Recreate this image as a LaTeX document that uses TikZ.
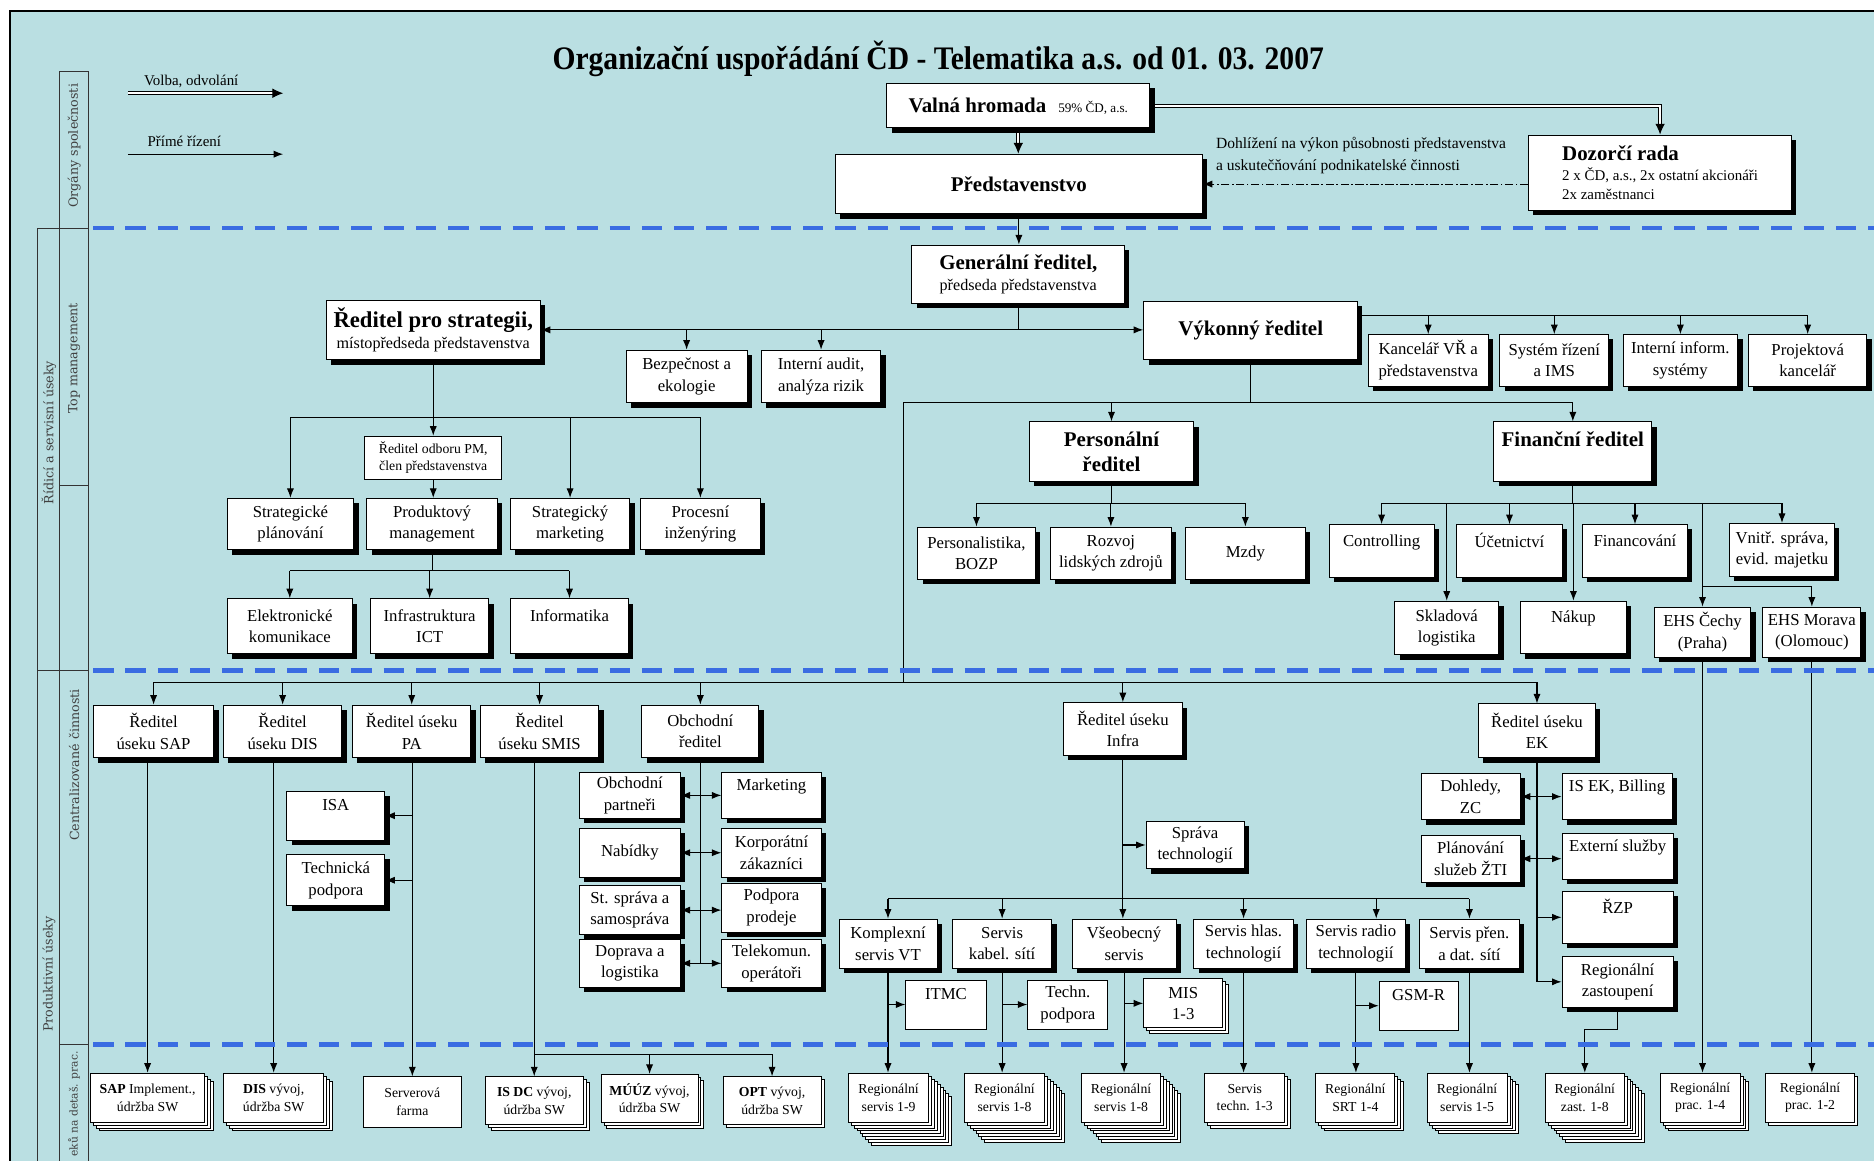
\documentclass[tikz,border=0pt]{standalone}
\usepackage{fontspec}
\setmainfont{Liberation Serif}
\newfontfamily\titlefont{Liberation Serif}[FakeStretch=0.9]
\newfontfamily\sidefont{DejaVu Serif}
\usetikzlibrary{shadows,arrows.meta,calc}
\definecolor{bgc}{RGB}{186,223,226}
\definecolor{dashc}{RGB}{58,108,226}
\pgfdeclarelayer{back}
\pgfdeclarelayer{lines}
\pgfsetlayers{back,lines,main}
\tikzset{
 box/.style={draw=black, fill=white, line width=0.8pt, align=center, inner sep=1pt, font=\fontsize{14}{18}\selectfont, general shadow={fill=black, shadow xshift=4pt, shadow yshift=-4pt}},
 pbox/.style={draw=black, fill=white, line width=0.8pt, align=center, inner sep=1pt, font=\fontsize{14}{18}\selectfont},
 sbox/.style={pbox, font=\fontsize{11.5}{14.5}\selectfont},
 arr/.style={line width=0.9pt, -{Latex[length=8pt,width=6pt]}},
 darr/.style={line width=0.9pt, {Latex[length=8pt,width=6pt]}-{Latex[length=8pt,width=6pt]}},
 ln/.style={line width=0.9pt},
 dblarr/.style={line width=0.8pt, double, double distance=2pt, -{Latex[length=9pt,width=8pt]}},
 dasharr/.style={line width=0.8pt, dash pattern=on 7pt off 2pt on 1.5pt off 2pt, -{Latex[length=8pt,width=6pt]}},
 sepline/.style={dashc, line width=3.5pt, dash pattern=on 17pt off 10pt},
 sidelab/.style={font=\sidefont\fontsize{10.6}{12}\selectfont, text=black!75, rotate=90, inner sep=0pt},
 hd/.style={font=\bfseries\fontsize{17.5}{21}\selectfont}
}
\newcommand\bx[7][box]{\node[#1, minimum width={(#5-#3)*1pt}, minimum height={(#6-#4)*1pt}] (#2) at ({(#3+#5)/2},{(#4+#6)/2}) {#7};}
\newcommand\stk[8][sbox]{%
 \pgfmathtruncatemacro\nlay{#7-1}%
 \ifnum\nlay>0
 \foreach \k in {\nlay,...,1}{\draw[line width=0.7pt, fill=white] ({#3+\k*2.4},{#4+\k*2.4}) rectangle ({#5+\k*2.4},{#6+\k*2.4});}%
 \fi
 \bx[#1]{#2}{#3}{#4}{#5}{#6}{#8}}
\begin{document}
\begin{tikzpicture}[x=1pt,y=-1pt]
\useasboundingbox (0,0) rectangle (1568,971);
\begin{pgfonlayer}{back}
\fill[white] (0,0) rectangle (1568,971);
\fill[bgc] (8,9) rectangle (1568,971);
\draw[line width=1.6pt] (8,975) -- (8,9) -- (1570,9);
\draw[line width=0.8pt, black!80] (50,60) rectangle (74,191);
\draw[line width=0.8pt, black!80] (31,191) rectangle (50,561);
\draw[line width=0.8pt, black!80] (50,191) rectangle (74,406);
\draw[line width=0.8pt, black!80] (50,406) rectangle (74,561);
\draw[line width=0.8pt, black!80] (31,975) -- (31,561) -- (74,561) -- (74,975);
\draw[line width=0.8pt, black!80] (50,561) -- (50,975);
\draw[line width=0.8pt, black!80] (50,874) -- (74,874);
\end{pgfonlayer}

% side labels
\node[sidelab] (s1) at (62,122) {Orgány společnosti};
\node[sidelab] (s2) at (41,362) {Řídicí a servisní úseky};
\node[sidelab] (s3) at (62,300) {Top management};
\node[sidelab] (s4) at (62,640) {Centralizované činnosti};
\node[sidelab] (s5) at (41,815) {Produktivní úseky};
\node[sidelab, anchor=west, font=\sidefont\fontsize{9}{11}\selectfont] (s6) at (62,968) {eků na detaš. prac.};

% title and legend
\node (title) at (785,49) {\titlefont\fontsize{27.5}{30}\selectfont\bfseries Organizační uspořádání ČD - Telematika a.s. od 01. 03. 2007};
\node[anchor=west, font=\fontsize{12.5}{15}\selectfont] (leg1) at (117,68) {Volba, odvolání};
\node[anchor=west, font=\fontsize{12.5}{15}\selectfont] (leg2) at (120,118) {Přímé řízení};
\coordinate (l1a) at (107,78); \coordinate (l1b) at (237,78);
\coordinate (l2a) at (107,129); \coordinate (l2b) at (237,129);

% top organs
\bx{valna}{742}{70}{962}{107}{{\bfseries\fontsize{17.5}{21}\selectfont Valná hromada}\hspace{10pt}{\fontsize{11}{13}\selectfont 59\% ČD, a.s.}}
\bx[box,hd]{pred}{699}{129}{1006}{179}{Představenstvo}
\bx[box,align=left,font=\fontsize{12.5}{16}\selectfont]{dozor}{1279}{113}{1499}{176}{{\bfseries\fontsize{17.5}{21}\selectfont Dozorčí rada}\\2 x ČD, a.s., 2x ostatní akcionáři\\2x zaměstnanci}
\node[anchor=west, align=left, font=\fontsize{13}{18}\selectfont] (dlab) at (1014,130) {Dohlížení na výkon působnosti představenstva\\a uskutečňování podnikatelské činnosti};

% top management
\bx{gen}{763}{205}{941}{254}{{\bfseries\fontsize{17.5}{21}\selectfont Generální ředitel,}\\{\fontsize{13.5}{16}\selectfont předseda představenstva}}
\bx{strat}{273}{251}{452}{301}{{\bfseries\fontsize{19}{22}\selectfont Ředitel pro strategii,}\\{\fontsize{13.5}{16}\selectfont místopředseda představenstva}}
\bx{bezp}{524}{293}{625}{337}{Bezpečnost a\\ekologie}
\bx{audit}{637}{293}{737}{337}{Interní audit,\\analýza rizik}
\bx[box,hd]{vyk}{957}{252}{1136}{301}{Výkonný ředitel}
\bx{kanc}{1145}{280}{1245}{323}{Kancelář VŘ a\\představenstva}
\bx{sys}{1255}{280}{1346}{323}{Systém řízení\\a IMS}
\bx{iis}{1358}{280}{1454}{323}{Interní inform.\\systémy}
\bx{proj}{1463}{280}{1562}{323}{Projektová\\kancelář}
\bx[sbox]{pm}{305}{365}{420}{401}{Ředitel odboru PM,\\člen představenstva}
\bx{splan}{190}{417}{296}{460}{Strategické\\plánování}
\bx{prod}{307}{417}{416}{460}{Produktový\\management}
\bx{smark}{427}{417}{527}{460}{Strategický\\marketing}
\bx{proc}{536}{417}{636}{460}{Procesní\\inženýring}
\bx{elek}{190}{501}{295}{547}{Elektronické\\komunikace}
\bx{ict}{310}{501}{409}{547}{Infrastruktura\\ICT}
\bx{info}{427}{501}{526}{547}{Informatika\\~}
\bx[box,hd]{pers}{861}{353}{999}{403}{Personální\\ředitel}
\bx[box,hd]{fin}{1250}{353}{1382}{403}{Finanční ředitel\\~}
\bx{persb}{768}{441}{866}{485}{Personalistika,\\BOZP}
\bx{rozv}{879}{441}{980}{485}{Rozvoj\\lidských zdrojů}
\bx{mzdy}{992}{441}{1092}{485}{Mzdy}
\bx{ctrl}{1112}{439}{1200}{483}{Controlling\\~}
\bx{ucet}{1219}{439}{1307}{483}{Účetnictví\\~}
\bx{finan}{1324}{439}{1412}{483}{Financování\\~}
\bx{vnitr}{1447}{438}{1535}{482}{Vnitř. správa,\\evid. majetku}
\bx{sklad}{1167}{503}{1254}{548}{Skladová\\logistika}
\bx{nakup}{1272}{503}{1361}{547}{Nákup\\~}
\bx{ehsc}{1384}{508}{1465}{550}{EHS Čechy\\(Praha)}
\bx{ehsm}{1475}{508}{1557}{550}{EHS Morava\\(Olomouc)}

% centralised
\bx{sap}{78}{590}{179}{634}{Ředitel\\úseku SAP}
\bx{dis}{187}{590}{286}{634}{Ředitel\\úseku DIS}
\bx{pa}{295}{590}{394}{634}{Ředitel úseku\\PA}
\bx{smis}{402}{590}{501}{634}{Ředitel\\úseku SMIS}
\bx{obch}{537}{590}{635}{634}{Obchodní\\ředitel}
\bx{isa}{240}{662}{322}{703}{ISA\\~}
\bx{tech}{240}{715}{322}{758}{Technická\\podpora}
\bx{op}{485}{646}{569}{685}{Obchodní\\partneři}
\bx{mkt}{604}{646}{687}{685}{Marketing\\~}
\bx{nab}{485}{693}{569}{734}{Nabídky}
\bx{korp}{604}{693}{687}{734}{Korporátní\\zákazníci}
\bx{st}{485}{741}{569}{782}{St. správa a\\samospráva}
\bx{podp}{604}{739}{687}{780}{Podpora\\prodeje}
\bx{dop}{485}{786}{569}{826}{Doprava a\\logistika}
\bx{tel}{604}{786}{687}{826}{Telekomun.\\operátoři}
\bx{infra}{890}{588}{989}{632}{Ředitel úseku\\Infra}
\bx{ek}{1237}{589}{1335}{634}{Ředitel úseku\\EK}
\bx{sprava}{959}{687}{1041}{727}{Správa\\technologií}
\bx{komp}{702}{769}{784}{810}{Komplexní\\servis VT}
\bx{kab}{797}{769}{880}{810}{Servis\\kabel. sítí}
\bx{vseo}{897}{769}{984}{810}{Všeobecný\\servis}
\bx{hlas}{999}{769}{1082}{810}{Servis hlas.\\technologií}
\bx{radio}{1093}{769}{1176}{810}{Servis radio\\technologií}
\bx{pren}{1188}{769}{1271}{810}{Servis přen.\\a dat. sítí}
\bx[pbox]{itmc}{758}{820}{825}{861}{ITMC\\~}
\bx[pbox]{tpod}{860}{820}{927}{861}{Techn.\\podpora}
\stk[pbox]{mis}{957}{819}{1023}{860}{3}{MIS\\1-3}
\bx[pbox]{gsm}{1154}{821}{1220}{862}{GSM-R\\~}
\bx{dohl}{1189}{647}{1272}{686}{Dohledy,\\ZC}
\bx{isek}{1307}{647}{1399}{686}{IS EK, Billing\\~}
\bx{plan}{1189}{699}{1272}{738}{Plánování\\služeb ŽTI}
\bx{ext}{1307}{697}{1400}{736}{Externí služby\\~}
\bx{rzp}{1307}{746}{1400}{789}{ŘZP\\~}
\bx{regz}{1307}{800}{1400}{843}{Regionální\\zastoupení}

% bottom row
\stk{bsap}{76}{898}{171}{939}{4}{\textbf{SAP} Implement.,\\údržba SW}
\stk{bdis}{187}{898}{271}{939}{4}{\textbf{DIS} vývoj,\\údržba SW}
\stk{bfarm}{304}{901}{386}{943}{1}{Serverová\\farma}
\stk{bisdc}{406}{901}{488}{941}{3}{\textbf{IS DC} vývoj,\\údržba SW}
\stk{bmuuz}{503}{899}{584}{939}{3}{\textbf{MÚÚZ} vývoj,\\údržba SW}
\stk{bopt}{605}{901}{687}{941}{2}{\textbf{OPT} vývoj,\\údržba SW}
\stk{brnine}{710}{898}{777}{939}{9}{Regionální\\servis 1-9}
\stk{breighta}{807}{898}{874}{939}{8}{Regionální\\servis 1-8}
\stk{breightb}{905}{898}{971}{939}{8}{Regionální\\servis 1-8}
\stk{bst}{1008}{898}{1075}{939}{3}{Servis\\techn. 1-3}
\stk{bsrt}{1101}{898}{1167}{939}{4}{Regionální\\SRT 1-4}
\stk{brfive}{1194}{898}{1261}{939}{5}{Regionální\\servis 1-5}
\stk{bzast}{1293}{898}{1359}{939}{8}{Regionální\\zast. 1-8}
\stk{bpfour}{1389}{898}{1456}{939}{4}{Regionální\\prac. 1-4}
\stk{bptwo}{1477}{898}{1552}{939}{2}{Regionální\\prac. 1-2}

\begin{pgfonlayer}{lines}
\draw[dblarr] (l1a) -- (l1b);
\draw[arr] (l2a) -- (l2b);
\draw[dblarr] (valna.south) -- (valna.south |- pred.north);
\draw[dblarr] (valna.east) -| (dozor.north);
\draw[dasharr] (dozor.west |- pred.east) -- (pred.east);
\draw[arr] (pred.south) -- (pred.south |- gen.north);
\coordinate (gbus) at (852,276);
\draw[ln] (gen.south) -- (gbus);
\draw[arr] (gbus) -- (strat.east |- gbus);
\draw[arr] (gbus) -- (vyk.west |- gbus);
\draw[arr] (bezp.north |- gbus) -- (bezp.north);
\draw[arr] (audit.north |- gbus) -- (audit.north);
\coordinate (vbus) at (1136,264);
\draw[ln] (vbus) -- (proj.north |- vbus);
\foreach \n in {kanc,sys,iis,proj} \draw[arr] (\n.north |- vbus) -- (\n.north);
\coordinate (vdown) at (1046.5,337);
\coordinate (cbus) at (756,571);
\draw[ln] (vyk.south) -- (vdown);
\draw[ln] (fin.north |- vdown) -- (cbus |- vdown) -- (cbus);
\draw[arr] (pers.north |- vdown) -- (pers.north);
\draw[arr] (fin.north |- vdown) -- (fin.north);
\coordinate (sbus) at (362.5,349);
\draw[ln] (strat.south) -- (sbus);
\draw[ln] (splan.north |- sbus) -- (proc.north |- sbus);
\foreach \n in {splan,smark,proc,pm} \draw[arr] (\n.north |- sbus) -- (\n.north);
\draw[arr] (pm.south) -- (pm.south |- prod.north);
\coordinate (pbus) at (361.5,477.5);
\draw[ln] (prod.south) -- (pbus);
\draw[ln] (elek.north |- pbus) -- (info.north |- pbus);
\foreach \n in {elek,ict,info} \draw[arr] (\n.north |- pbus) -- (\n.north);
\coordinate (prbus) at (930,421);
\draw[ln] (pers.south) -- (prbus);
\draw[ln] (persb.north |- prbus) -- (mzdy.north |- prbus);
\foreach \n in {persb,rozv,mzdy} \draw[arr] (\n.north |- prbus) -- (\n.north);
\coordinate (fbus) at (1316,421);
\draw[ln] (fin.south) -- (fbus);
\draw[ln] (ctrl.north |- fbus) -- (vnitr.north |- fbus);
\foreach \n in {ctrl,ucet,finan,vnitr,sklad,nakup,ehsc} \draw[arr] (\n.north |- fbus) -- (\n.north);
\coordinate (ehsj) at (1424.5,491);
\draw[arr] (ehsj) -| (ehsm.north);
% centralised bus
\draw[ln] (sap.north |- cbus) -- (ek.north |- cbus);
\foreach \n in {sap,dis,pa,smis,obch,infra,ek} \draw[arr] (\n.north |- cbus) -- (\n.north);
\draw[arr] (bsap.north |- sap.south) -- (bsap.north);
\draw[arr] (bdis.north |- dis.south) -- (bdis.north);
\draw[arr] (bfarm.north |- pa.south) -- (bfarm.north);
\draw[arr] (bfarm.north |- isa.east) -- (isa.east);
\draw[arr] (bfarm.north |- tech.east) -- (tech.east);
\coordinate (mbus) at (447,882);
\draw[ln] (smis.south -| mbus) -- (mbus) -- (bopt.north |- mbus);
\foreach \n in {bisdc,bmuuz,bopt} \draw[arr] (\n.north |- mbus) -- (\n.north);
\draw[ln] (obch.south) -- (obch.south |- dop.east);
\draw[darr] (op.east) -- (op.east -| mkt.west);
\draw[darr] (nab.east) -- (nab.east -| korp.west);
\draw[darr] (st.east) -- (st.east -| podp.west);
\draw[darr] (dop.east) -- (dop.east -| tel.west);
% infra
\draw[arr] (infra.south) -- (infra.south |- vseo.north);
\draw[arr] (infra.south |- sprava.west) -- (sprava.west);
\coordinate (ibus) at (939.5,752);
\draw[ln] (komp.north |- ibus) -- (pren.north |- ibus);
\foreach \n in {komp,kab,hlas,pren} \draw[arr] (\n.north |- ibus) -- (\n.north);
\draw[arr] ($(radio.north |- ibus)+(17,0)$) -- ($(radio.north)+(17,0)$);
\draw[arr] (komp.south) -- (komp.south |- brnine.north);
\draw[arr] (komp.south |- itmc.west) -- (itmc.west);
\draw[arr] (kab.south) -- (kab.south |- breighta.north);
\draw[arr] (kab.south |- tpod.west) -- (tpod.west);
\draw[arr] (vseo.south) -- (vseo.south |- breightb.north);
\draw[arr] (vseo.south |- mis.west) -- (mis.west);
\draw[arr] (hlas.south) -- (hlas.south |- bst.north);
\draw[arr] (radio.south) -- (radio.south |- bsrt.north);
\draw[arr] (radio.south |- gsm.west) -- (gsm.west);
\draw[arr] (pren.south) -- (pren.south |- brfive.north);
% EK
\draw[ln] (ek.south) -- (ek.south |- regz.west);
\draw[darr] (dohl.east) -- (dohl.east -| isek.west);
\draw[darr] (plan.east) -- (plan.east -| ext.west);
\draw[arr] (ek.south |- rzp.west) -- (rzp.west);
\draw[arr] (ek.south |- regz.west) -- (regz.west);
\draw[arr] (regz.south) -- ++(0,18) -| (bzast.north);
\draw[arr] (ehsc.south) -- (ehsc.south |- bpfour.north);
\draw[arr] (ehsm.south) -- (ehsm.south |- bptwo.north);
% separators
\draw[sepline] (78,191) -- (1568,191);
\draw[sepline] (78,561) -- (1568,561);
\draw[sepline] (78,874) -- (1568,874);
\end{pgfonlayer}
\end{tikzpicture}
\end{document}
